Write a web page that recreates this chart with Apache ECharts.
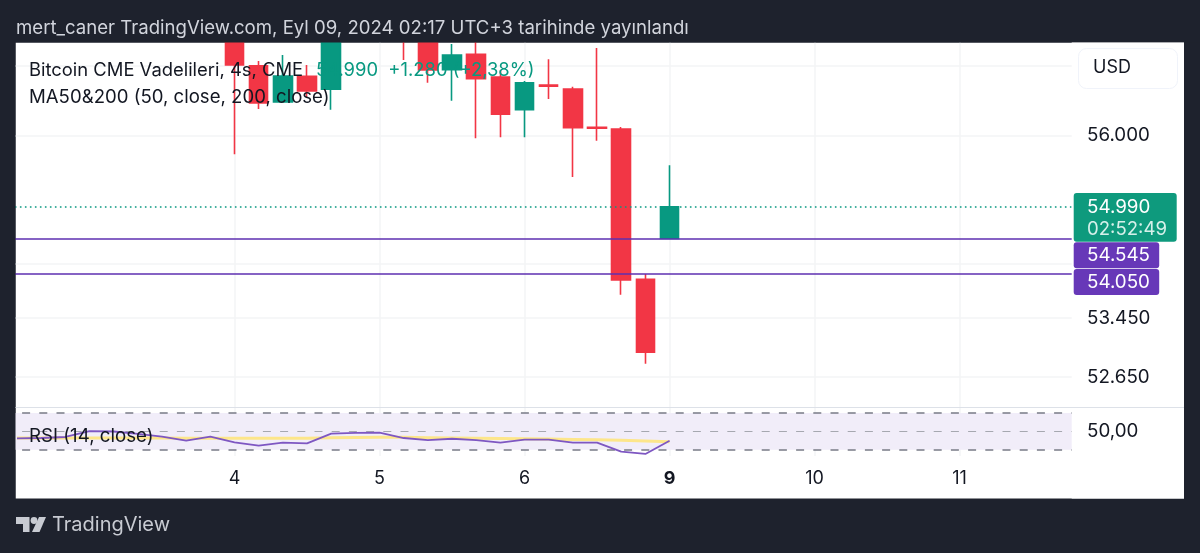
<!DOCTYPE html>
<html>
<head>
<meta charset="utf-8">
<style>
  html, body { margin: 0; padding: 0; background: #1e222d; }
  #main { width: 1200px; height: 553px; }
</style>
<script src="https://cdn.jsdelivr.net/npm/echarts@6/dist/echarts.min.js"></script>
</head>
<body>
<div id="main"></div>
<script>
// tick labels sit on the category axis, the rest of the bars have no label
var categories = ['', '', '', '', '', '', '', '', '', '4', '', '', '', '', '', '5', '', '', '', '', '', '6', '', '', '', '', '', '9',
  '', '', '', '', '', '10', '', '', '', '', '', '11', '', '', '', '', ''];

// null = candle is above the visible price range
var opens  = [null, null, null, null, null, null, null, null, null, 57677, 57007, 56481, 56853, 56665, null, null, 57824, 57530, 56949, 57174, 56843, 56370, 56725, 56669, 56118, 56093, 53980, 54545];
var closes = [null, null, null, null, null, null, null, null, null, 57018, 56467, 56858, 56640, 57530, null, null, 57530, 56945, 57163, 56818, 56304, 56760, 56710, 56112, 56105, 53971, 52983, 54990];
var lows   = [null, null, null, null, null, null, null, null, null, 55732, 56380, 56481, 56553, 56370, null, null, 57090, 56760, 56500, 55960, 55974, 55974, 56525, 55410, 55926, 53768, 52829, 54545];
var highs  = [null, null, null, null, null, null, null, null, null, 57824, 57076, 57163, 57018, 57751, null, null, 57972, 57751, 57324, 57530, 56945, 56785, 57101, 56702, 57266, 56122, 54054, 55575];

var rsiValues = [42.3, 42.8, 43.9, 50.4, 49.9, 47.2, 44.4, 39.9, 44.2, 38.1, 34.4, 37.7, 37.0, 47.5, 48.3, 48.6, 42.8, 40.6, 42.0, 40.6, 37.7, 41.0, 41.0, 37.7, 37.7, 27.9, 25.4, 39.9];
var rsiMaValues = [42.8, 42.8, 42.8, 42.8, 42.8, 42.8, 42.7, 42.6, 42.6, 42.5, 42.5, 42.5, 42.6, 43.0, 43.3, 43.6, 43.5, 43.2, 42.9, 42.6, 42.3, 42.0, 41.6, 41.2, 40.8, 40.3, 39.6, 38.8];
var rsiLevels = [30, 50, 70];

var gridPrices = [57000, 56000, 54200, 53450, 52650];
var priceTicks = [56000, 53450, 52650];
var lastPrice = 54990;
var maPrices = [54545, 54050];

var font = 'Inter';
var red = '#f23645';
var green = '#089981';
var purple = '#5e2fb0';
var gridColor = '#f3f4f6';

var candles = opens.map(function (o, i) {
  return o === null ? ['-', '-', '-', '-'] : [o, closes[i], lows[i], highs[i]];
});

function priceText(v) {
  return String(v).replace(/(\d{2})(\d{3})$/, '$1.$2');
}
function showLabel(i, val) {
  return val !== '';
}

var mychart = echarts.init(document.getElementById('main'));
var option = {
  backgroundColor: '#1e222d',
  animation: false,
  textStyle: { fontFamily: font },
  grid: [
    { left: 4.9, top: 42.5, width: 1087.65, height: 365 },
    { left: 4.9, top: 407.5, width: 1087.65, height: 48.5 }
  ],
  xAxis: [
    {
      type: 'category', gridIndex: 0, data: categories,
      axisLine: { show: false }, axisTick: { show: false }, axisLabel: { show: false },
      splitLine: { show: true, alignWithLabel: true, interval: showLabel, lineStyle: { color: gridColor, width: 1.5 } }
    },
    {
      type: 'category', gridIndex: 1, data: categories,
      axisLine: { show: false }, axisTick: { show: false },
      axisLabel: {
        interval: showLabel, margin: 14, fontSize: 18, color: '#131722', fontFamily: font,
        formatter: function (v) { return v === '9' ? '{b|9}' : v; },
        rich: { b: { fontSize: 18, fontWeight: 'bold', color: '#131722', fontFamily: font } }
      },
      splitLine: { show: true, alignWithLabel: true, interval: showLabel, lineStyle: { color: gridColor, width: 1.5 } }
    }
  ],
  yAxis: [
    {
      type: 'log', gridIndex: 0, min: 52241, max: 57346,
      axisLine: { show: false }, axisTick: { show: false }, axisLabel: { show: false },
      splitLine: { show: false }, minorSplitLine: { show: false }
    },
    {
      type: 'value', gridIndex: 1, min: 23.19, max: 76.05,
      axisLine: { show: false }, axisTick: { show: false }, axisLabel: { show: false }, splitLine: { show: false }
    }
  ],
  series: [
    {
      // yatay grid cizgileri
      type: 'line', xAxisIndex: 0, yAxisIndex: 0, data: [], silent: true,
      markLine: {
        silent: true, symbol: 'none', z: 1, animation: false, label: { show: false },
        lineStyle: { color: gridColor, width: 1.5, type: 'solid' },
        data: gridPrices.map(function (p) { return { yAxis: p }; })
      }
    },
    {
      type: 'candlestick', xAxisIndex: 0, yAxisIndex: 0, data: candles, barWidth: 19,
      itemStyle: { color: green, color0: red, borderColor: green, borderColor0: red, borderWidth: 1.6 },
      markLine: {
        silent: true, symbol: 'none', z: 5, animation: false, label: { show: false },
        data: [
          { yAxis: lastPrice, lineStyle: { color: green, width: 1.6, type: [1.6, 3.4] } },
          { yAxis: maPrices[0], lineStyle: { color: purple, width: 1.7, type: 'solid' } },
          { yAxis: maPrices[1], lineStyle: { color: purple, width: 1.7, type: 'solid' } }
        ]
      }
    },
    {
      type: 'line', xAxisIndex: 1, yAxisIndex: 1, data: rsiMaValues, showSymbol: false, z: 3,
      lineStyle: { color: '#fde68a', width: 3 },
      markArea: {
        silent: true, animation: false, itemStyle: { color: '#f1edf9' },
        data: [[{ yAxis: rsiLevels[0] }, { yAxis: rsiLevels[2] }]]
      },
      markLine: {
        silent: true, symbol: 'none', z: 2, animation: false, label: { show: false },
        data: [
          { yAxis: rsiLevels[0], lineStyle: { color: '#787b86', width: 1.6, type: [8, 9.2] } },
          { yAxis: rsiLevels[1], lineStyle: { color: '#a6a8b0', width: 1, type: [8, 9.2] } },
          { yAxis: rsiLevels[2], lineStyle: { color: '#787b86', width: 1.6, type: [8, 9.2] } }
        ]
      }
    },
    {
      type: 'line', xAxisIndex: 1, yAxisIndex: 1, data: rsiValues, showSymbol: false, z: 4,
      lineStyle: { color: '#7e57c2', width: 1.8 }
    }
  ]
};
mychart.setOption(option);

function yOf(price) {
  return mychart.convertToPixel({ yAxisIndex: 0 }, price);
}
function label(x, y, text, size, color, extra) {
  var style = { x: x, y: y, text: text, fontSize: size, fontFamily: font, fill: color, verticalAlign: 'middle' };
  return { type: 'text', z: 120, silent: true, style: Object.assign(style, extra || {}) };
}
function box(x, y, w, h, fill, r, stroke) {
  return {
    type: 'rect', z: 110, silent: true, shape: { x: x, y: y, width: w, height: h, r: r || 0 },
    style: { fill: fill, stroke: stroke || null, lineWidth: 1 }
  };
}

var graphics = [
  // beyaz cerceve + kenar ortuleri (mumlar grid disina tasiyor)
  { type: 'rect', z: -10, silent: true, shape: { x: 15.5, y: 42.5, width: 1168.5, height: 456 }, style: { fill: '#ffffff' } },
  box(0, 0, 1200, 42.5, '#1e222d'),
  box(0, 42, 15.5, 458, '#1e222d'),
  box(1071.7, 42.5, 112.3, 456, '#ffffff'),
  { type: 'line', z: 111, silent: true, shape: { x1: 15.5, y1: 407.5, x2: 1184, y2: 407.5 }, style: { stroke: '#dde1e8', lineWidth: 1.2 } },

  label(16, 28, 'mert_caner TradingView.com, Eyl 09, 2024 02:17 UTC+3 tarihinde yayınlandı', 18.6, '#d1d4dc'),
  label(29, 70, 'Bitcoin CME Vadelileri, 4s, CME', 18.4, '#131722'),
  label(316, 70, '54.990  +1.280 (+2,38%)', 18.4, green),
  label(29, 97, 'MA50&200 (50, close, 200, close)', 18.6, '#131722'),
  label(29, 436, 'RSI (14, close)', 18.7, '#131722'),

  box(1078.5, 48.5, 99, 40, '#ffffff', 8, '#f0f3fa'),
  label(1093, 68, 'USD', 18, '#131722'),

  // son fiyat + MA kutulari
  box(1073.7, yOf(lastPrice) - 13.7, 103, 48.7, '#0e9a7d', 3),
  label(1087, yOf(lastPrice) + 0.5, priceText(lastPrice), 18.8, '#ffffff'),
  label(1087, yOf(lastPrice) + 22.5, '02:52:49', 18.6, '#d6f0ea'),
  box(1073.7, yOf(maPrices[0]) + 3.7, 85.5, 26, '#6738b8', 3),
  label(1087, yOf(maPrices[0]) + 16.5, priceText(maPrices[0]), 18.8, '#ffffff'),
  box(1073.7, yOf(maPrices[1]) - 5.3, 85.5, 26, '#6738b8', 3),
  label(1087, yOf(maPrices[1]) + 8, priceText(maPrices[1]), 18.8, '#ffffff'),

  label(1087, mychart.convertToPixel({ yAxisIndex: 1 }, 50), '50,00', 18.8, '#131722'),

  // TradingView logosu
  { type: 'polygon', z: 120, silent: true, shape: { points: [[16, 517], [29.5, 517], [29.5, 532], [23, 532], [23, 524], [16, 524]] }, style: { fill: '#c8cbd2' } },
  { type: 'circle', z: 120, silent: true, shape: { cx: 34, cy: 520.5, r: 3.4 }, style: { fill: '#c8cbd2' } },
  { type: 'polygon', z: 120, silent: true, shape: { points: [[39, 517], [46, 517], [39.5, 532], [32, 532]] }, style: { fill: '#c8cbd2' } },
  label(52, 525, 'TradingView', 20, '#c8cbd2')
];

priceTicks.forEach(function (p) {
  graphics.push(label(1087, yOf(p), priceText(p), 18.8, '#131722'));
});

mychart.setOption({ graphic: graphics });
window.addEventListener('resize', function () {
  mychart.resize();
});
</script>
</body>
</html>
